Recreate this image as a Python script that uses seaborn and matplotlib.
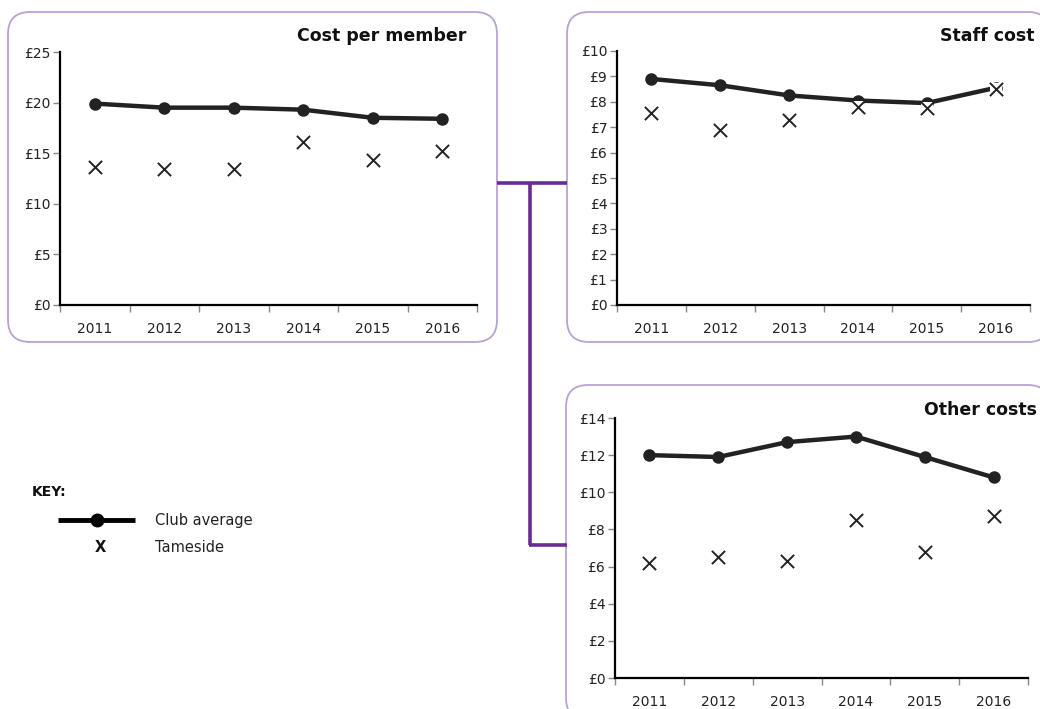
import seaborn as sns
import matplotlib.pyplot as plt
from matplotlib.patches import FancyBboxPatch

years = ['2011', '2012', '2013', '2014', '2015', '2016']

# cost per member
cost_club = [19.9, 19.5, 19.5, 19.3, 18.5, 18.4]
cost_tameside = [13.6, 13.4, 13.4, 16.1, 14.3, 15.2]

# staff cost
staff_club = [8.9, 8.65, 8.25, 8.05, 7.95, 8.55]
staff_tameside = [7.55, 6.9, 7.3, 7.8, 7.75, 8.5]

# other costs
other_club = [12.0, 11.9, 12.7, 13.0, 11.9, 10.8]
other_tameside = [6.2, 6.5, 6.3, 8.5, 6.8, 8.7]

sns.set_style('white')
plt.rcParams['font.family'] = ['DejaVu Sans']

W, H = 1040, 709
fig = plt.figure(figsize=(W / 100, H / 100), dpi=100)

# overlay axes in pixel coordinates for boxes, connectors and the key
bg = fig.add_axes([0, 0, 1, 1], zorder=0)
bg.set_xlim(0, W)
bg.set_ylim(H, 0)
bg.axis('off')

box_col = '#b9a3cf'
for (x0, y0, x1, y1) in [(8, 12, 497, 342), (567, 12, 1050, 342), (566, 385, 1050, 720)]:
    bg.add_patch(FancyBboxPatch((x0, y0), x1 - x0, y1 - y0,
                                boxstyle='round,pad=0,rounding_size=22',
                                fc='white', ec=box_col, lw=1.3))

conn = '#6a2c91'
bg.plot([497, 567], [183, 183], color=conn, lw=2.6, solid_capstyle='butt')
bg.plot([530, 530], [183, 545], color=conn, lw=2.6, solid_capstyle='butt')
bg.plot([529, 567], [545, 545], color=conn, lw=2.6, solid_capstyle='butt')

# key
bg.text(32, 492, 'KEY:', fontsize=10, fontweight='bold', va='center', color='#111')
bg.plot([58, 135], [520, 520], color='black', lw=3.5, solid_capstyle='butt')
bg.plot([97], [520], marker='o', color='black', markersize=9)
bg.text(155, 520, 'Club average', fontsize=10.5, va='center', color='#222')
bg.text(100, 548, 'X', fontsize=10.5, fontweight='bold', va='center', ha='center', color='#111')
bg.text(155, 548, 'Tameside', fontsize=10.5, va='center', color='#222')


def px_axes(left, top, right, bottom):
    return fig.add_axes([left / W, 1 - bottom / H, (right - left) / W, (bottom - top) / H], zorder=2)


def panel(ax, club, tameside, ymax, step, title, title_x, title_y):
    xs = list(range(len(years)))
    sns.lineplot(x=xs, y=club, ax=ax, color='#222222', lw=3.2, marker='o',
                 markersize=9, markeredgewidth=0, zorder=3)
    # Tameside crosses have a white background, like the original
    sns.scatterplot(x=xs, y=tameside, ax=ax, color='white', marker='s',
                    s=70, linewidth=0, zorder=4)
    sns.scatterplot(x=xs, y=tameside, ax=ax, color='#222222', marker='x',
                    s=90, linewidth=1.4, zorder=5)
    ax.set_xlim(-0.5, len(years) - 0.5)
    ax.set_ylim(0, ymax)
    ax.patch.set_alpha(0)
    ax.set_xticks([i - 0.5 for i in range(len(years) + 1)])
    ax.set_xticklabels([])
    ax.set_xticks(xs, minor=True)
    ax.set_xticklabels(years, minor=True)
    ax.tick_params(axis='x', which='major', length=5, width=1, color='#888', direction='out', bottom=True)
    ax.tick_params(axis='x', which='minor', length=0, pad=12, labelsize=10, labelcolor='#222')
    yt = list(range(0, ymax + 1, step))
    ax.set_yticks(yt)
    ax.set_yticklabels(['£%d' % v for v in yt])
    ax.tick_params(axis='y', length=5, width=1, color='#888', direction='out', left=True,
                   labelsize=10, labelcolor='#222', pad=2)
    for s in ['top', 'right']:
        ax.spines[s].set_visible(False)
    for s in ['left', 'bottom']:
        ax.spines[s].set_color('black')
        ax.spines[s].set_linewidth(1.6)
    bg.text(title_x, title_y, title, fontsize=12.5, fontweight='bold', ha='right',
            va='center', color='#111', zorder=5)


ax1 = px_axes(60, 52, 477, 305)
panel(ax1, cost_club, cost_tameside, 25, 5, 'Cost per member', 466, 36)

ax2 = px_axes(617, 51, 1030, 305)
panel(ax2, staff_club, staff_tameside, 10, 1, 'Staff cost', 1034, 36)

ax3 = px_axes(615, 418, 1028, 678)
panel(ax3, other_club, other_tameside, 14, 2, 'Other costs', 1037, 410)

fig.savefig('out.png', dpi=100)
